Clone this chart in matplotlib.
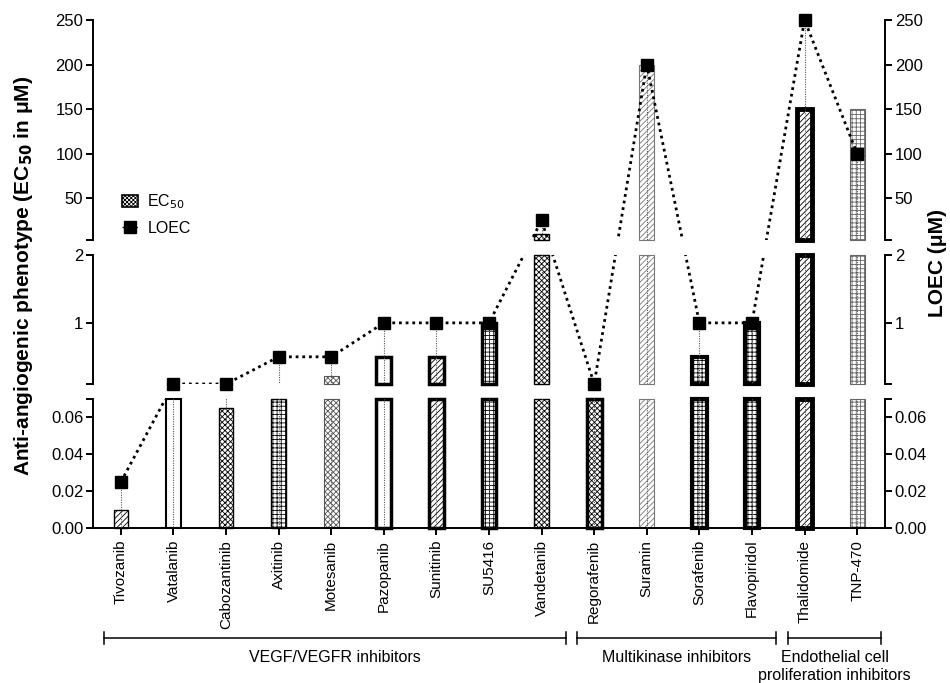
import numpy as np
import matplotlib
matplotlib.use('Agg')
import matplotlib.pyplot as plt
from matplotlib.patches import Patch
from matplotlib.lines import Line2D
import matplotlib.transforms as mtransforms

plt.rcParams['font.family'] = ['Liberation Sans', 'DejaVu Sans']
plt.rcParams['hatch.linewidth'] = 0.6

# data
drugs = ['Tivozanib', 'Vatalanib', 'Cabozantinib', 'Axitinib', 'Motesanib',
         'Pazopanib', 'Sunitinib', 'SU5416', 'Vandetanib', 'Regorafenib',
         'Suramin', 'Sorafenib', 'Flavopiridol', 'Thalidomide', 'TNP-470']
ec50 = [0.01, 0.08, 0.065, 0.08, 0.22, 0.5, 0.5, 1.0, 10, 0.08,
        200, 0.5, 1.0, 150, 150]
loec = [0.025, 0.1, 0.1, 0.5, 0.5, 1.0, 1.0, 1.0, 25, 0.1,
        200, 1.0, 1.0, 250, 100]
group_names = ['VEGF/VEGFR inhibitors', 'Multikinase inhibitors',
               'Endothelial cell\nproliferation inhibitors']
group_spans = [(0, 8), (9, 12), (13, 14)]

# bar looks (hatch, edge colour, edge width)
hatches = ['//////', '', 'xxxxxx', '++++', 'xxxxxx', '', '//////', '++++',
           'xxxxxx', 'xxxxxx', '//////', '++++', '++++', '//////', '++++']
edgecols = ['k', 'k', 'k', 'k', '#555555', 'k', 'k', 'k', 'k', 'k',
            '#777777', 'k', 'k', 'k', '#666666']
edgews = [1.0, 1.5, 1.0, 1.0, 0.8, 2.5, 2.5, 2.5, 1.0, 2.5,
          0.8, 3.0, 3.0, 3.5, 0.8]

# broken axis segments: (ymin, ymax, fig bottom, fig height)
segs = [(0, 0.07, 0.2269, 0.1889),
        (0.1, 2, 0.4378, 0.1889),
        (3, 250, 0.6486, 0.3221)]
seg_ticks = [[0, 0.02, 0.04, 0.06], [1, 2], [50, 100, 150, 200, 250]]
seg_fmt = ['{:.2f}', '{:g}', '{:g}']

left, width = 0.0979, 0.8337
x = np.arange(len(drugs))


def to_virtual(v):
    for lo, hi, b, h in segs:
        if v <= hi:
            v = max(v, lo)
            return b + (v - lo) / (hi - lo) * h
    lo, hi, b, h = segs[-1]
    return b + h


def from_virtual(V, seg):
    lo, hi, b, h = seg
    return lo + (np.asarray(V) - b) / h * (hi - lo)


fig = plt.figure(figsize=(9.5, 6.83), dpi=100)

V_loec = [to_virtual(v) for v in loec]
V_zero = to_virtual(0)

axes = []
for k, seg in enumerate(segs):
    lo, hi, b, h = seg
    ax = fig.add_axes([left, b, width, h])
    axes.append(ax)
    ax.set_xlim(-0.53, len(drugs) - 0.47)
    ax.set_ylim(lo, hi)

    # bars clipped to this segment
    for i in range(len(drugs)):
        if ec50[i] <= lo:
            continue
        bot = max(0, lo)
        top = min(ec50[i], hi)
        ax.bar(x[i], top - bot, bottom=bot, width=0.28, facecolor='white',
               edgecolor=edgecols[i], hatch=hatches[i], linewidth=edgews[i],
               clip_on=False, zorder=2)

    # thin drop lines from LOEC point
    for i in range(len(drugs)):
        ax.plot([x[i], x[i]], from_virtual([V_loec[i], V_zero], seg),
                color='#555555', lw=0.8, ls=(0, (1, 1.2)), zorder=3)

    # LOEC connecting line (drawn straight in page space, broken at gaps)
    ax.plot(x, from_virtual(V_loec, seg), color='k', lw=2,
            ls=(0, (1, 1.4)), zorder=4)
    inside = [i for i in range(len(drugs)) if lo - 1e-9 <= loec[i] <= hi]
    ax.plot(x[inside], [loec[i] for i in inside], ls='none', marker='s',
            ms=9, color='k', clip_on=False, zorder=5)

    ax.spines['top'].set_visible(False)
    for sp in ['left', 'right', 'bottom']:
        ax.spines[sp].set_linewidth(1.4)
    ax.set_yticks(seg_ticks[k])
    ax.set_yticklabels([seg_fmt[k].format(t) for t in seg_ticks[k]])
    ends = [lo] if k > 0 else []
    if k < 2 and hi not in seg_ticks[k]:
        ends.append(hi)
    ax.set_yticks(ends, minor=True)
    ax.tick_params(axis='y', which='both', direction='out', length=5,
                   width=1.4, left=True, right=True, labelleft=True,
                   labelright=True, labelsize=12, pad=2)
    if k == 0:
        ax.set_xticks(x)
        ax.set_xticklabels(drugs, rotation=90, fontsize=11)
        ax.tick_params(axis='x', direction='out', length=5, width=1.4)
    else:
        ax.spines['bottom'].set_visible(False)
        ax.set_xticks([])

fig.text(0.025, 0.596, r'Anti-angiogenic phenotype (EC$_{\mathbf{50}}$ in μM)',
         rotation=90, ha='center', va='center', fontsize=15, fontweight='bold')
fig.text(0.987, 0.615, 'LOEC (μM)', rotation=90, ha='center', va='center',
         fontsize=15, fontweight='bold')

handles = [Patch(facecolor='white', edgecolor='k', hatch='xxxxxxxx', lw=1.2),
           Line2D([], [], color='k', marker='s', ms=8, lw=1, ls=(0, (1, 1.5)))]
fig.legend(handles, ['EC$_{50}$', 'LOEC'], loc='upper left',
           bbox_to_anchor=(0.113, 1 - 178 / 683), frameon=False, fontsize=11.5,
           handlelength=1.0, handleheight=0.8, handletextpad=0.6,
           labelspacing=0.6)

# group brackets under the tick labels
trans = mtransforms.blended_transform_factory(axes[0].transData, fig.transFigure)
by = 1 - 638 / 683
cap = 6 / 683
for name, (a, b) in zip(group_names, group_spans):
    x0, x1 = a - 0.32, b + 0.46
    fig.add_artist(Line2D([x0, x1], [by, by], color='k', lw=1.1, transform=trans))
    for xe in (x0, x1):
        fig.add_artist(Line2D([xe, xe], [by - cap, by + cap], color='k', lw=1.1,
                              transform=trans))
    fig.text((x0 + x1) / 2, by - 0.018, name, transform=trans, ha='center',
             va='top', fontsize=11.5, linespacing=1.2)

fig.savefig('out.png', dpi=100)
